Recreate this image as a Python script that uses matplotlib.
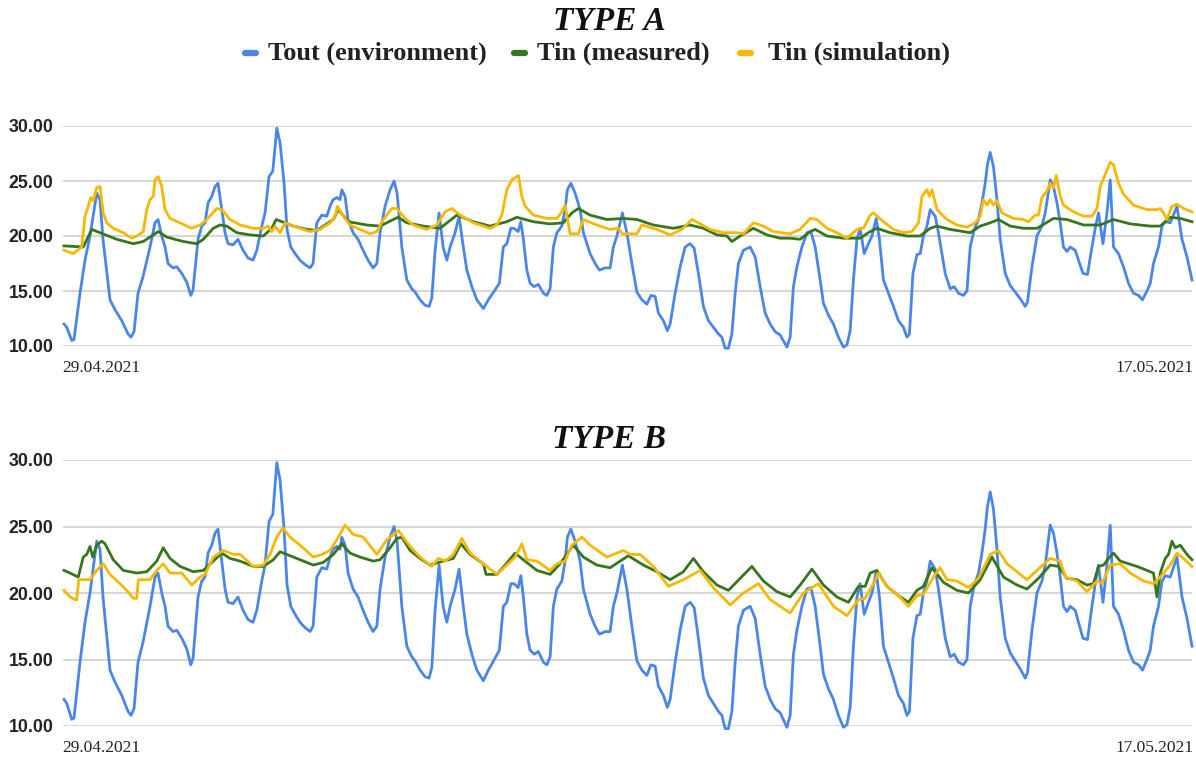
import matplotlib.pyplot as plt
from matplotlib.lines import Line2D

# hours since 29.04.2021 00:00 and temperatures (deg C)
tout_t = [0.4, 1.5, 3.5, 4.4, 6.8, 8.8, 10.8, 13.5, 14.8, 16.0, 18.8, 20.8, 23.5, 26.0, 27.2, 28.4,
          30.0, 32.0, 34.8, 36.8, 38.0, 39.5, 40.8, 42.0, 44.0, 45.5, 47.5, 49.5, 51.1, 52.0, 54.0,
          55.5, 56.8, 58.0, 59.5, 60.8, 62.0, 63.5, 64.8, 66.0, 68.0, 70.0, 72.0, 74.0, 76.0, 77.5,
          79.5, 80.8, 82.4, 83.9, 85.5, 86.8, 88.4, 89.6, 91.1, 92.8, 94.8, 96.8, 98.8, 100.0, 101.5,
          103.5, 105.5, 106.8, 108.0, 109.6, 110.8, 111.5, 112.8, 114.0, 116.0, 118.0, 120.0, 122.0,
          124.0, 125.5, 126.8, 128.8, 130.8, 132.4, 133.6, 135.5, 137.5, 139.5, 140.8, 142.8, 144.8,
          146.4, 147.5, 148.8, 150.4, 152.0, 153.5, 154.8, 156.8, 158.4, 159.9, 161.5, 163.5, 165.5,
          168.1, 170.1, 172.8, 174.5, 176.1, 177.5, 179.1, 180.4, 182.0, 183.1, 184.1, 185.5, 186.8,
          188.4, 190.1, 192.1, 193.5, 194.8, 196.1, 197.5, 199.5, 200.8, 201.7, 203.1, 204.8, 206.8,
          208.1, 210.8, 212.8, 214.5, 216.8, 218.8, 220.1, 221.5, 222.8, 223.7, 225.5, 227.5, 229.5,
          231.5, 233.5, 235.1, 236.8, 238.1, 240.1, 241.7, 242.8, 244.8, 246.8, 248.8, 250.8, 252.4,
          254.1, 256.1, 258.1, 260.1, 262.1, 263.5, 264.8, 266.1, 267.5, 268.8, 270.1, 272.1, 274.8,
          276.8, 278.8, 280.8, 282.8, 284.8, 286.8, 289.5, 290.8, 292.1, 293.5, 295.5, 297.5, 299.1,
          300.8, 302.8, 304.1, 306.1, 308.1, 310.1, 312.1, 313.5, 314.8, 316.1, 317.5, 318.8, 320.4,
          322.1, 323.5, 325.2, 326.5, 328.1, 330.1, 332.1, 334.1, 336.1, 337.5, 338.5, 339.9, 341.5,
          342.8, 344.1, 345.5, 346.8, 348.8, 350.1, 351.5, 352.8, 354.8, 356.4, 358.1, 360.1, 361.5,
          362.8, 364.4, 366.1, 367.5, 368.8, 369.7, 370.8, 372.1, 373.5, 374.8, 376.8, 378.8, 380.8,
          382.8, 384.8, 385.7, 387.5, 389.5, 391.5, 392.8, 394.8, 396.1, 397.5, 398.8, 400.1, 401.5,
          402.8, 404.8, 406.1, 407.9, 409.7, 411.5, 412.8, 414.1, 415.9, 417.5, 418.8, 420.1, 422.1,
          424.1, 426.1, 428.1, 430.1, 431.7, 433.5, 434.8, 436.1, 438.1, 439.5, 440.8, 442.8, 445.5,
          447.5, 449.5, 451.5]
tout_v = [12.0, 11.7, 10.5, 10.6, 14.8, 17.8, 20.0, 23.9, 23.3, 19.7, 14.2, 13.3, 12.3, 11.1, 10.8, 11.3,
          14.8, 16.3, 19.0, 21.2, 21.5, 20.0, 19.0, 17.5, 17.1, 17.2, 16.6, 15.8, 14.6, 15.1, 19.7,
          20.9, 21.2, 23.0, 23.6, 24.5, 24.8, 22.4, 20.3, 19.3, 19.2, 19.7, 18.7, 18.0, 17.8, 18.7,
          20.9, 22.1, 25.4, 25.9, 29.8, 28.5, 24.8, 20.6, 19.0, 18.4, 17.8, 17.4, 17.1, 17.5, 21.2,
          21.9, 21.8, 22.7, 23.3, 23.5, 23.3, 24.2, 23.6, 21.5, 20.3, 19.7, 18.7, 17.8,
          17.1, 17.5, 20.3, 22.7, 24.2, 25.0, 23.9, 19.0, 16.0, 15.2, 14.9, 14.2, 13.7,
          13.6, 14.4, 18.7, 22.1, 19.0, 17.8, 19.0, 20.3, 21.8, 19.3, 16.9, 15.4, 14.2,
          13.4, 14.2, 15.1, 15.7, 19.0, 19.3, 20.7, 20.7, 20.4, 21.3, 19.7, 16.9, 15.7,
          15.4, 15.6, 14.8, 14.6, 15.2, 19.0, 20.3, 20.9, 22.4, 24.2, 24.8, 23.9, 22.4,
          20.3, 18.4, 17.5, 16.9, 17.1, 17.1, 19.0, 20.0, 21.2, 22.1, 20.3, 17.5, 14.9,
          14.2, 13.8, 14.6, 14.5, 13.0, 12.3, 11.4, 12.0, 14.8, 17.2, 19.0, 19.3, 18.9,
          16.6, 13.6, 12.3, 11.7, 11.1, 10.8, 9.8, 9.8, 11.1, 14.8, 17.5, 18.7, 19.0,
          18.1, 15.4, 13.0, 12.0, 11.3, 11.0, 9.9, 10.8, 15.4, 17.2, 19.0, 20.3, 20.4,
          19.0, 16.0, 13.9, 12.8, 12.0, 10.8, 9.9, 10.1, 11.4, 16.0, 19.7, 20.7, 18.4,
          19.3, 20.0, 21.6, 19.7, 16.0, 14.8, 13.6, 12.3, 11.7, 10.8, 11.1, 16.6, 18.3,
          18.4, 20.0, 20.9, 22.4, 21.8, 20.3, 18.4, 16.6, 15.2, 15.4, 14.8, 14.6, 15.0,
          19.0, 20.6, 21.5, 23.0, 24.8, 26.5, 27.6, 26.3, 23.3, 19.7, 16.6, 15.5, 14.9,
          14.3, 13.6, 14.0, 17.2, 20.0, 20.9, 22.1, 25.1, 24.5, 23.0, 21.2, 19.0, 18.6,
          19.0, 18.7, 17.8, 16.6, 16.5, 19.0, 20.7, 22.1, 19.3, 22.1, 25.1, 19.0, 18.4,
          17.2, 15.7, 14.8, 14.6, 14.2, 15.0, 15.7, 17.5, 19.0, 20.9, 21.3, 21.2, 22.7,
          19.7, 18.1, 16.0]

a_meas_t = [0.4, 8.1, 11.5, 14.8, 21.5, 28.1, 32.1, 38.1, 41.5, 48.1, 53.5, 56.1, 60.1, 62.8, 65.5,
            69.5, 74.8, 80.1, 83.5, 85.2, 87.5, 92.1, 97.5, 101.5, 108.1, 110.1, 114.1, 121.5, 126.8,
            132.1, 134.0, 137.5, 144.1, 150.8, 157.5, 164.1, 170.8, 177.5, 181.5, 188.1, 194.8, 200.1,
            203.5, 206.1, 210.8, 217.5, 224.1, 229.5, 236.1, 244.1, 250.8, 256.1, 261.5, 265.5, 267.5,
            270.8, 276.1, 281.5, 286.8, 290.8, 294.8, 298.8, 300.8, 305.5, 312.1, 318.8, 322.8, 325.5,
            330.8, 337.5, 342.8, 346.8, 349.5, 354.8, 362.8, 366.8, 370.8, 374.1, 378.8, 384.1, 389.5,
            396.1, 401.5, 408.1, 414.8, 420.1, 426.8, 434.8, 438.8, 442.8, 446.8, 451.5]
a_meas_v = [19.1, 19.0, 20.6, 20.3, 19.7, 19.3, 19.5, 20.4, 19.9, 19.5, 19.3, 19.7, 20.7, 21.0, 20.9,
            20.3, 20.1, 20.0, 20.7, 21.5, 21.3, 20.9, 20.6, 20.5, 21.5, 22.4, 21.3, 21.0, 20.9,
            21.5, 21.7, 21.2, 20.9, 20.7, 21.9, 21.3, 20.9, 21.3, 21.7, 21.3, 21.1, 21.2,
            22.1, 22.5, 21.9, 21.5, 21.6, 21.5, 21.0, 20.7, 21.0, 20.7, 20.1, 20.0, 19.5,
            20.0, 20.7, 20.1, 19.8, 19.8, 19.7, 20.4, 20.6, 20.0, 19.8, 19.8, 20.4, 20.7,
            20.3, 20.0, 20.0, 20.7, 20.9, 20.6, 20.3, 20.9, 21.2, 21.5, 20.9, 20.7, 20.7,
            21.6, 21.5, 21.0, 21.0, 21.5, 21.1, 20.9, 20.9, 21.7, 21.6, 21.3]

a_sim_t = [0.4, 4.1, 7.5, 8.8, 10.1, 11.1, 12.1, 13.5, 14.8, 16.1, 17.5, 20.1, 24.1, 27.5, 29.5, 32.1,
           33.5, 34.8, 36.1, 36.8, 38.1, 39.5, 40.8, 42.8, 46.8, 51.5, 54.8, 57.5, 61.5, 63.5, 66.8,
           70.8, 76.1, 80.1, 82.1, 83.5, 84.8, 86.8, 88.8, 90.8, 94.8, 98.8, 102.8, 106.8, 108.1,
           109.2, 109.7, 112.1, 114.8, 118.8, 122.8, 125.5, 128.1, 131.5, 133.5, 136.8, 140.1, 145.5,
           149.5, 152.8, 155.5, 158.8, 164.1, 170.8, 173.5, 175.5, 177.5, 179.5, 180.8, 182.1, 183.5,
           184.8, 188.1, 193.5, 197.5, 199.5, 200.8, 202.8, 206.1, 208.1, 213.5, 218.8, 222.1, 223.5,
           229.5, 231.5, 237.5, 242.8, 247.5, 251.5, 254.1, 258.8, 264.1, 269.5, 272.1, 276.1, 280.1,
           284.1, 290.8, 294.8, 298.8, 301.5, 305.5, 309.5, 313.5, 317.5, 320.1, 322.8, 324.1, 328.1,
           332.1, 336.1, 339.5, 342.1, 343.5, 345.5, 346.5, 347.5, 349.5, 353.5, 357.5, 361.5, 364.8,
           366.8, 368.1, 369.5, 370.8, 372.1, 373.5, 375.5, 380.1, 384.1, 386.1, 388.8, 390.1, 391.5,
           393.5, 394.8, 396.1, 397.2, 398.8, 400.1, 404.1, 408.1, 411.5, 413.5, 414.8, 416.8, 418.8,
           420.1, 422.1, 424.1, 428.1, 433.5, 437.5, 438.8, 440.1, 441.5, 443.5, 445.5, 448.1, 451.5]
a_sim_v = [18.7, 18.4, 19.0, 21.8, 22.7, 23.5, 23.2, 24.4, 24.5, 22.1, 21.2, 20.7, 20.3, 19.8, 20.0, 20.4,
           22.4, 23.3, 23.6, 25.1, 25.4, 24.5, 22.4, 21.6, 21.2, 20.7, 21.0, 21.5, 22.5, 22.4, 21.5,
           21.0, 20.7, 20.7, 20.9, 20.4, 20.9, 20.3, 21.2, 21.0, 20.7, 20.4, 20.6, 21.2, 21.5,
           22.1, 22.7, 21.8, 21.0, 20.6, 20.2, 20.4, 21.5, 22.5, 22.5, 21.6, 21.0, 20.6,
           21.0, 22.2, 22.5, 21.9, 21.2, 20.7, 21.0, 21.9, 24.2, 25.1, 25.3, 25.5, 23.6,
           22.7, 21.9, 21.6, 21.6, 22.2, 22.8, 20.2, 20.2, 21.5, 21.0, 20.6, 20.7, 20.2,
           20.2, 21.0, 20.6, 20.1, 20.6, 21.5, 21.2, 20.6, 20.3, 20.3, 20.2, 21.2, 20.9,
           20.4, 20.2, 20.6, 21.6, 21.5, 20.7, 20.3, 19.8, 20.6, 20.7, 21.9, 22.1, 21.3,
           20.6, 20.3, 20.4, 21.2, 23.6, 24.2, 23.6, 24.2, 22.4, 21.5, 21.0, 20.8, 21.2,
           21.8, 23.3, 22.8, 23.3, 22.8, 23.2, 22.1, 21.6, 21.5, 21.3, 21.9, 21.9, 23.5,
           24.1, 24.8, 24.4, 25.5, 23.6, 22.8, 22.2, 21.8, 21.8, 22.5, 24.5, 25.6, 26.7,
           26.5, 24.8, 23.8, 22.8, 22.4, 22.4, 22.5, 22.1, 21.5, 22.7, 22.9, 22.5, 22.2]

b_meas_t = [0.4, 2.8, 6.1, 8.1, 9.5, 10.8, 11.9, 13.5, 15.5, 16.8, 20.1, 24.1, 29.5, 33.5, 37.5, 40.1,
            42.8, 46.8, 52.1, 56.1, 60.1, 63.5, 66.8, 70.8, 76.1, 80.1, 84.1, 86.8, 89.5, 94.8, 100.1,
            104.1, 108.1, 111.5, 114.8, 118.8, 124.1, 126.8, 130.8, 133.5, 135.5, 138.8, 142.8, 146.8,
            152.1, 156.1, 159.1, 162.8, 168.1, 169.2, 173.5, 176.8, 180.8, 184.1, 189.5, 194.8, 198.8,
            204.1, 208.1, 213.5, 218.8, 222.8, 226.1, 232.1, 237.5, 242.8, 248.1, 252.1, 256.1, 261.5,
            266.1, 270.8, 275.5, 280.1, 285.5, 290.8, 294.8, 299.5, 304.1, 309.5, 314.1, 318.1, 320.8,
            322.8, 325.5, 329.5, 334.1, 338.1, 341.5, 344.1, 347.5, 352.1, 357.5, 362.1, 366.8, 371.5,
            376.1, 381.5, 385.5, 390.1, 394.8, 398.1, 401.5, 405.5, 409.5, 412.1, 414.1, 416.1, 418.1,
            420.1, 422.8, 429.5, 436.1, 437.5, 438.8, 440.8, 442.1, 443.5, 444.8, 446.8, 449.5, 451.5]
b_meas_v = [21.7, 21.5, 21.2, 22.7, 22.9, 23.5, 22.7, 23.6, 23.9, 23.7, 22.5, 21.7, 21.5, 21.6, 22.4, 23.4,
            22.6, 22.0, 21.6, 21.7, 22.4, 23.0, 22.6, 22.4, 22.0, 22.0, 22.5, 23.1, 22.9, 22.5, 22.1,
            22.3, 22.9, 23.7, 23.0, 22.7, 22.4, 22.5, 23.4, 24.1, 24.2, 23.2, 22.6, 22.1,
            22.4, 22.6, 23.7, 22.9, 22.2, 21.4, 21.4, 22.1, 23.0, 22.5, 21.7, 21.4, 22.2,
            23.6, 22.7, 22.1, 21.9, 22.4, 22.8, 22.1, 21.6, 21.0, 21.6, 22.6, 21.6, 20.6,
            20.2, 21.1, 22.0, 20.9, 20.1, 19.7, 20.6, 21.8, 20.6, 19.7, 19.3, 20.5, 20.5,
            21.5, 21.7, 20.5, 19.8, 19.3, 20.2, 20.5, 21.9, 20.8, 20.2, 20.0, 21.0, 22.7,
            21.2, 20.6, 20.3, 21.1, 22.1, 22.0, 21.1, 21.0, 20.6, 20.7, 22.0, 22.1, 22.6,
            23.0, 22.4, 22.0, 21.5, 19.7, 21.5, 22.6, 22.9, 23.9, 23.4, 23.6, 22.9, 22.5]

b_sim_t = [0.4, 2.8, 4.8, 5.5, 6.3, 10.8, 13.5, 16.1, 18.8, 22.8, 25.5, 28.1, 29.5, 30.1, 34.8, 37.5,
           40.1, 42.8, 47.5, 51.5, 54.8, 56.8, 60.1, 64.1, 68.1, 70.8, 76.1, 80.1, 82.8, 85.5, 87.9,
           90.8, 94.8, 100.1, 103.5, 106.8, 109.5, 112.8, 116.1, 120.1, 125.5, 129.5, 134.1, 138.8,
           142.8, 147.5, 150.1, 152.8, 156.1, 159.5, 162.8, 168.1, 173.5, 177.5, 180.8, 183.5, 185.5,
           189.5, 194.8, 197.5, 200.8, 203.5, 207.5, 210.8, 217.5, 224.1, 226.8, 230.8, 236.1, 242.1,
           248.1, 254.8, 260.1, 266.8, 272.1, 278.1, 282.8, 290.8, 296.1, 302.1, 308.1, 313.5, 318.1,
           320.8, 324.1, 326.1, 329.5, 334.1, 338.1, 341.5, 344.1, 348.1, 350.8, 353.5, 357.5, 362.1,
           366.1, 370.8, 374.1, 377.5, 381.5, 385.5, 389.5, 394.8, 398.8, 400.8, 405.5, 409.5, 413.5,
           415.5, 418.8, 422.8, 426.8, 432.1, 436.1, 438.8, 442.8, 445.5, 448.1, 451.5]
b_sim_v = [20.2, 19.7, 19.5, 19.5, 21.0, 21.0, 21.7, 22.2, 21.4, 20.7, 20.2, 19.6, 19.6, 21.0, 21.0, 21.7,
           22.2, 21.5, 21.5, 20.6, 21.2, 21.4, 22.7, 23.2, 22.9, 22.9, 22.0, 22.1, 22.9, 24.2, 24.9,
           24.2, 23.6, 22.7, 22.9, 23.2, 24.0, 25.1, 24.4, 24.2, 22.9, 24.0, 24.7, 23.5,
           22.7, 22.0, 22.6, 22.4, 22.9, 24.1, 23.0, 22.2, 21.4, 22.1, 22.7, 23.7, 22.5,
           22.4, 21.7, 22.2, 22.4, 23.6, 24.2, 23.6, 22.7, 23.2, 22.9, 22.9, 22.0, 20.5,
           21.0, 21.7, 20.4, 19.1, 20.0, 20.7, 19.5, 18.5, 20.0, 20.7, 19.0, 18.3, 19.5,
           19.6, 20.7, 21.5, 20.5, 19.8, 19.0, 19.8, 19.9, 21.2, 21.9, 21.0, 20.9, 20.4,
           21.1, 22.9, 23.2, 22.2, 21.6, 21.0, 21.7, 22.6, 22.4, 21.2, 20.9, 20.1, 20.9,
           20.7, 22.1, 22.2, 21.5, 20.9, 20.7, 21.2, 22.1, 23.0, 22.6, 22.0]

series_names = ["Tout (environment)", "Tin (measured)", "Tin (simulation)"]
colors = ["#4a86e8", "#38761d", "#f6b800"]
y_ticks = [10, 15, 20, 25, 30]
start_label = "29.04.2021"
end_label = "17.05.2021"
t_end = 451.5

W, H = 1196, 758
fig = plt.figure(figsize=(W / 100, H / 100), dpi=100)


def fx(px):
    return px / W


def fy(py):
    return 1 - py / H


panels = [
    ("TYPE A", 126, 346, a_meas_t, a_meas_v, a_sim_t, a_sim_v, 22, 368),
    ("TYPE B", 460, 726, b_meas_t, b_meas_v, b_sim_t, b_sim_v, 439, 748),
]

for title, ptop, pbot, mt, mv, st, sv, title_y, date_y in panels:
    ax = fig.add_axes([fx(63), fy(pbot), fx(1192) - fx(63), fy(ptop) - fy(pbot)])
    ax.plot(tout_t, tout_v, color=colors[0], lw=2.0, clip_on=False, zorder=3)
    ax.plot(mt, mv, color=colors[1], lw=2.0, clip_on=False, zorder=4)
    ax.plot(st, sv, color=colors[2], lw=2.0, clip_on=False, zorder=5)
    ax.set_xlim(0, t_end)
    ax.set_ylim(10, 30)
    ax.set_yticks(y_ticks)
    ax.set_yticklabels([f"{v:.2f}" for v in y_ticks], fontfamily="Liberation Sans",
                       fontweight="bold", fontsize=12.8, color="#222222")
    ax.tick_params(axis="y", length=0, pad=7)
    ax.set_xticks([])
    ax.grid(axis="y", color="#cccccc", lw=1.1)
    ax.set_axisbelow(True)
    for s in ax.spines.values():
        s.set_visible(False)
    ax.set_facecolor("none")

    fig.text(fx(609), fy(title_y), title, ha="center", va="center", fontsize=24,
             fontfamily="Liberation Serif", fontweight="bold", fontstyle="italic", color="#111111")
    fig.text(fx(62), fy(date_y), start_label, ha="left", va="center", fontsize=12.5,
             fontfamily="Liberation Serif", color="#222222")
    fig.text(fx(1193), fy(date_y), end_label, ha="right", va="center", fontsize=12.5,
             fontfamily="Liberation Serif", color="#222222")

# legend row under the first title
leg_y = fy(53)
leg_items = [(243, 268), (512, 537), (738, 768)]
for (mx, tx), name, c in zip(leg_items, series_names, colors):
    fig.add_artist(Line2D([fx(mx + 2), fx(mx + 13)], [leg_y, leg_y], color=c, lw=4.5,
                          solid_capstyle="round", transform=fig.transFigure))
    fig.text(fx(tx), leg_y, name, ha="left", va="center", fontsize=19,
             fontfamily="Liberation Serif", fontweight="bold", color="#222222")

fig.savefig("out.png", dpi=100)
